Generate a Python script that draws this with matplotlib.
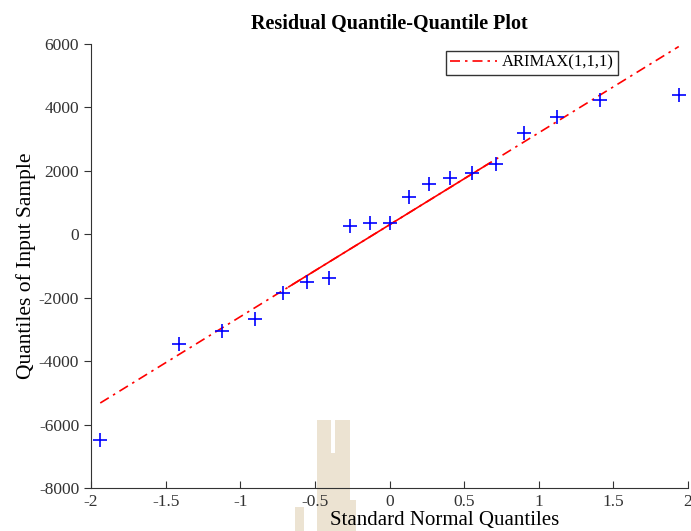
import matplotlib
matplotlib.use('Agg')
import matplotlib.pyplot as plt
from matplotlib.patches import Rectangle

plt.rcParams['font.family'] = ['Liberation Serif', 'DejaVu Serif']
plt.rcParams['axes.unicode_minus'] = False

# standard normal quantiles (x) and sorted residuals (y)
normal_q = [-1.938, -1.412, -1.119, -0.900, -0.716, -0.555, -0.407, -0.267, -0.132, 0.0,
            0.132, 0.267, 0.407, 0.555, 0.716, 0.900, 1.119, 1.412, 1.938]
residuals = [-6480, -3470, -3040, -2680, -1840, -1520, -1390, 270, 370, 370,
             1180, 1600, 1780, 1930, 2220, 3200, 3700, 4240, 4380]

# reference line: quartile section (solid) and extension (dash-dot)
line_x = [-1.938, -0.6745, 0.6745, 1.938]
line_y = [-5320, -1656, 2256, 5920]

fig = plt.figure(figsize=(6.91, 5.31), dpi=100)
W, H = 691, 531

# faint watermark from the scanned page
wm = '#ece3d2'
for x0, y0, w, h in [(317, 420, 14, 111), (335, 420, 15, 111), (331, 453, 4, 78),
                     (295, 507, 9, 24), (340, 500, 16, 31)]:
    fig.patches.append(Rectangle((x0 / W, 1 - (y0 + h) / H), w / W, h / H,
                                 transform=fig.transFigure, color=wm, zorder=-5, lw=0))

ax = fig.add_axes([91 / W, 43 / H, 597 / W, 444 / H])
ax.patch.set_alpha(0)

dashdot = (6, 3, 1.5, 3)
ax.plot(normal_q, residuals, '+', color='blue', ms=10, mew=1.2, zorder=3)
ax.plot([line_x[0], line_x[-1]], [line_y[0], line_y[-1]], color='red', lw=1.2,
        dashes=dashdot, label='ARIMAX(1,1,1)')
ax.plot(line_x[1:3], line_y[1:3], color='red', ls='-', lw=1.2)

ax.set_xlim(-2, 2)
ax.set_ylim(-8000, 6000)
ax.set_xticks([-2, -1.5, -1, -0.5, 0, 0.5, 1, 1.5, 2])
ax.set_xticklabels(['-2', '-1.5', '-1', '-0.5', '0', '0.5', '1', '1.5', '2'])
ax.set_yticks(range(-8000, 6001, 2000))

ax.spines['top'].set_visible(False)
ax.spines['right'].set_visible(False)
for s in ['left', 'bottom']:
    ax.spines[s].set_color('#333333')
ax.tick_params(axis='x', direction='in', length=5, labelsize=12.5, colors='#333333', pad=4)
ax.tick_params(axis='y', direction='out', length=5, labelsize=12.5, colors='#333333')

ax.set_title('Residual Quantile-Quantile Plot', fontsize=14.5, fontweight='bold', pad=11)
ax.set_xlabel('Standard Normal Quantiles', fontsize=15)
ax.xaxis.set_label_coords(0.593, -0.0935)
ax.xaxis.label.set_va('bottom')
ax.set_ylabel('Quantiles of Input Sample', fontsize=15.5, labelpad=2)

leg = ax.legend(loc='upper right', bbox_to_anchor=(0.883, 0.985), fontsize=12,
                fancybox=False, framealpha=1, handlelength=2.8, handletextpad=0.3,
                borderpad=0.25, borderaxespad=0)
leg.get_frame().set_edgecolor('#333333')

fig.savefig('out.png', dpi=100)
